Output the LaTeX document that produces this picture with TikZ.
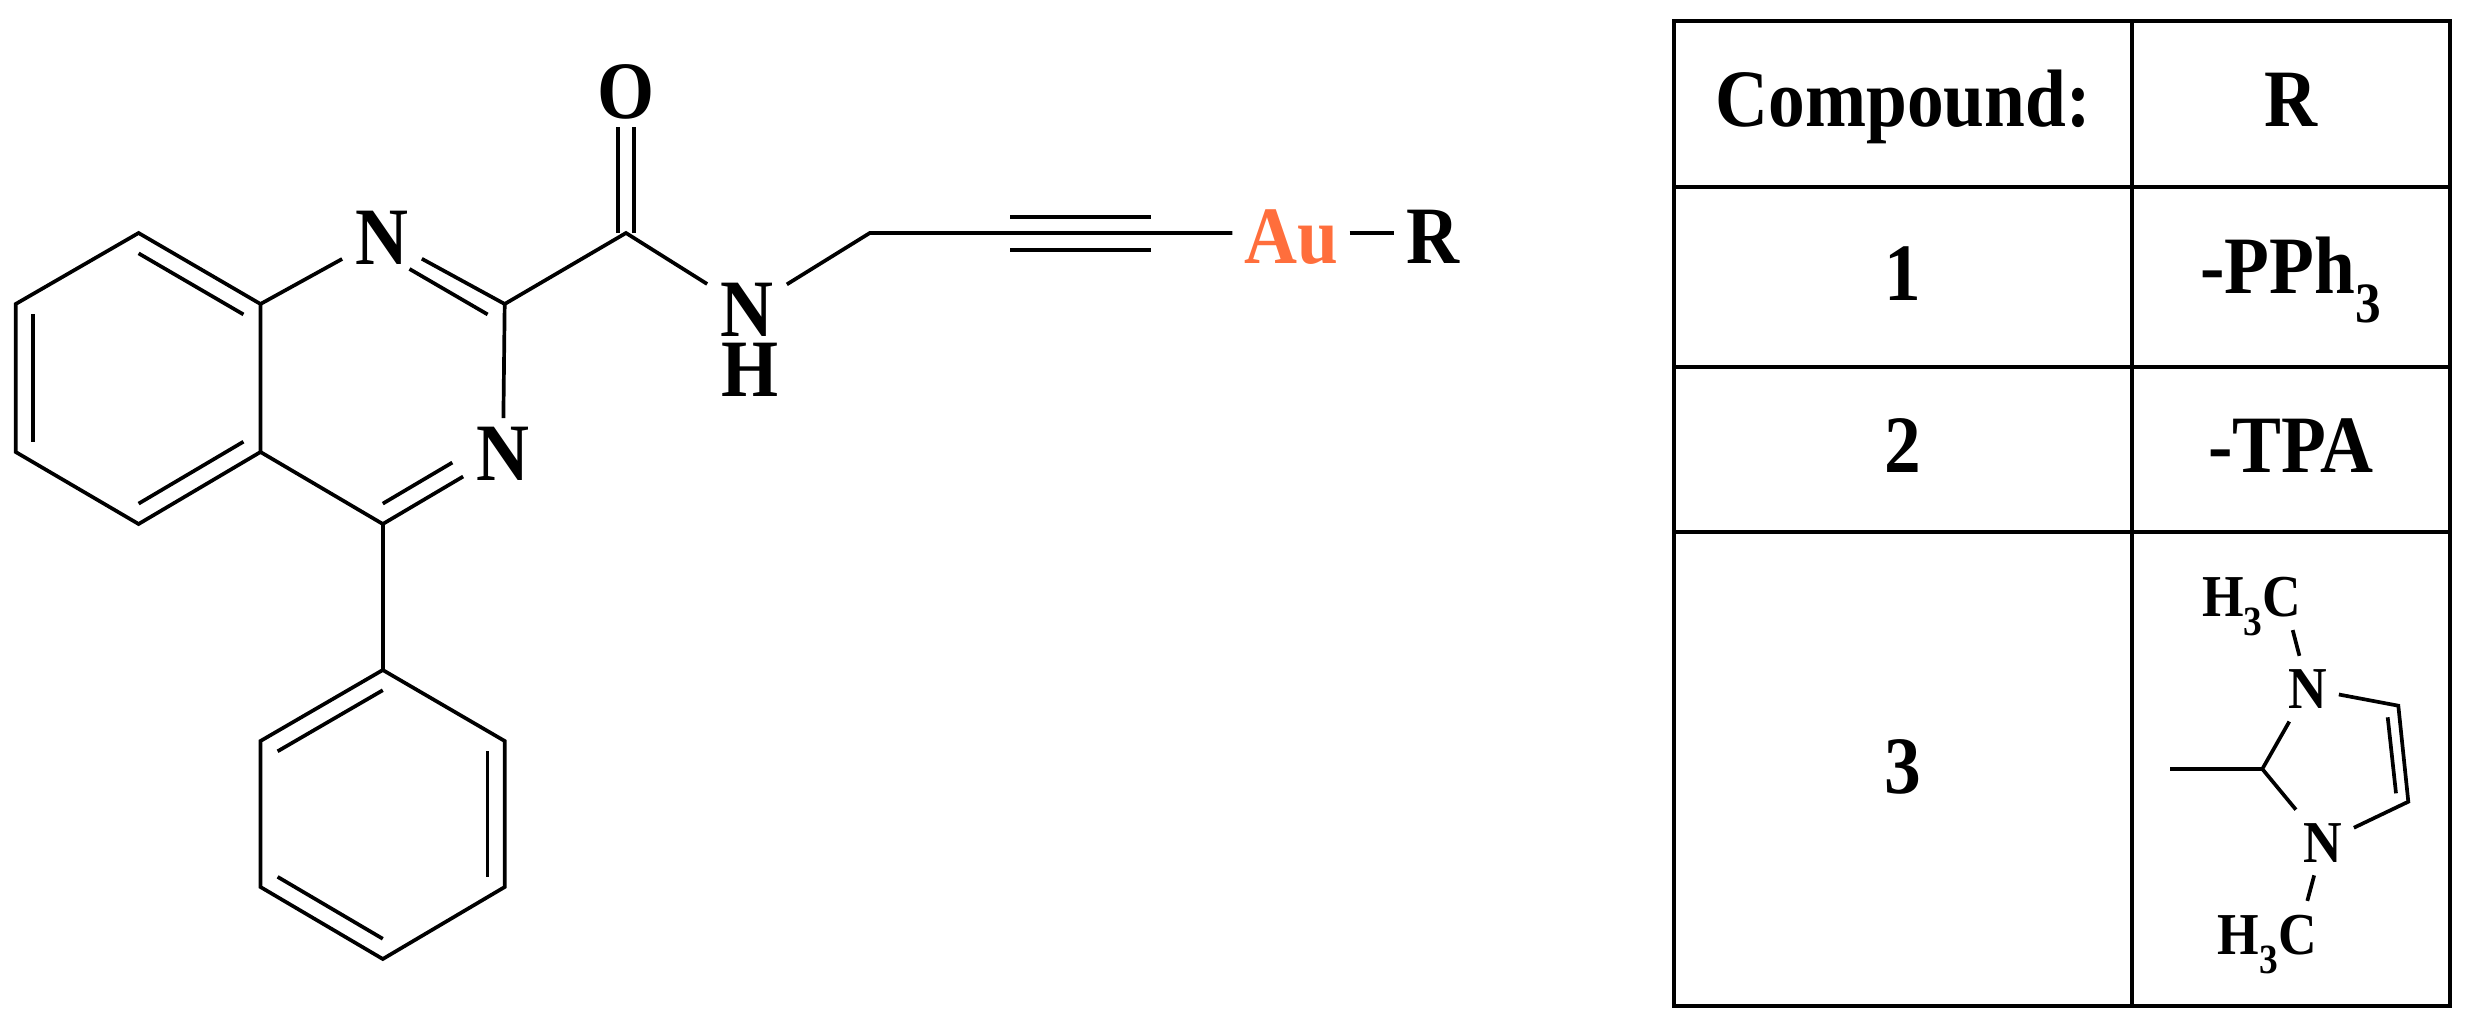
\documentclass[tikz,border=0pt]{standalone}
\usepackage{fontspec}
\setmainfont{Liberation Serif}[FakeStretch=0.9]
\usetikzlibrary{calc}
\definecolor{goldorange}{HTML}{FF6E3C}
\tikzset{
    bigtext/.style={font=\fontsize{81.5}{90}\selectfont\bfseries,text height=54pt,text depth=0pt},
    smalltext/.style={font=\fontsize{59.4}{66}\selectfont\bfseries,text height=39.5pt,text depth=0pt},
    atom/.style={bigtext,rectangle,inner sep=0pt,minimum width=76pt,minimum height=66pt},
    smallatom/.style={smalltext,rectangle,inner sep=0pt,minimum width=58pt,minimum height=62pt},
    methyl/.style={smalltext,inner xsep=0pt,inner ysep=12pt},
    chainlabel/.style={bigtext,text height=61pt,inner xsep=10pt,inner ysep=0pt},
    cell/.style={bigtext,inner sep=0pt,yshift=4pt},
    tableline/.style={line width=4pt}
}
\newcommand{\innerbond}[3]{\draw ($(#3)!.86!(#1)$) -- ($(#3)!.86!(#2)$);}
\begin{document}
\begin{tikzpicture}[x=1pt,y=-1pt,line width=3.7pt]
    \useasboundingbox (0,0) rectangle (2469,1030);

    \coordinate (btop) at (138.6,233);
    \coordinate (bul) at (15.7,304);
    \coordinate (bll) at (15.7,452);
    \coordinate (bbot) at (138.6,524);
    \coordinate (jbot) at (260.5,452);
    \coordinate (jtop) at (260.5,304);
    \coordinate (bmid) at (138.6,378.5);
    \coordinate (pmid) at (382.7,378.5);
    \coordinate (vnone) at (382.7,233);
    \coordinate (vnthree) at (504.7,452);
    \coordinate (ctwo) at (504.7,304);
    \coordinate (cfour) at (382.8,524);
    \coordinate (camide) at (626,233);
    \coordinate (chtwo) at (869.8,233);
    \coordinate (tripa) at (1010.4,233);
    \coordinate (tripb) at (1151,233);
    \coordinate (ipso) at (382.8,670);
    \coordinate (phul) at (260.5,741);
    \coordinate (phll) at (260.5,887);
    \coordinate (phbot) at (382.8,959);
    \coordinate (phlr) at (504.7,887);
    \coordinate (phur) at (504.7,741);
    \coordinate (phmid) at (382.8,814.5);

    \node[atom] (none) at (382,237) {N};
    \node[atom] (nthree) at (503,453) {N};
    \node[atom] (oxy) at (626,92) {O};
    \node[atom] (namide) at (747,309) {N};
    \node[bigtext,inner sep=0pt] (hamide) at (750,369.5) {H};
    \node[chainlabel,text=goldorange] (gold) at (1291,233) {Au};
    \node[chainlabel] (rgroup) at (1432.7,233) {R};

    \draw (btop) -- (bul) -- (bll) -- (bbot) -- (jbot) -- (jtop) -- cycle;
    \innerbond{btop}{jtop}{bmid}
    \innerbond{bul}{bll}{bmid}
    \innerbond{bbot}{jbot}{bmid}
    \draw (jtop) -- (none);
    \draw (none) -- (ctwo) -- (nthree);
    \draw (nthree) -- (cfour) -- (jbot);
    \draw[shorten >=31pt] ($(pmid)!.86!(ctwo)$) -- ($(pmid)!.86!(vnone)$);
    \draw[shorten >=41pt] ($(pmid)!.86!(cfour)$) -- ($(pmid)!.86!(vnthree)$);
    \draw (ctwo) -- (camide) -- (namide);
    \draw ([xshift=-8pt]camide) -- ([xshift=-8pt]camide |- oxy.south);
    \draw ([xshift=8pt]camide) -- ([xshift=8pt]camide |- oxy.south);
    \draw (namide) -- (chtwo) -- (gold);
    \draw ([yshift=16pt]tripa) -- ([yshift=16pt]tripb);
    \draw ([yshift=-17pt]tripa) -- ([yshift=-17pt]tripb);
    \draw (gold) -- (rgroup);

    \draw (cfour) -- (ipso);
    \draw (ipso) -- (phul) -- (phll) -- (phbot) -- (phlr) -- (phur) -- cycle;
    \innerbond{ipso}{phul}{phmid}
    \innerbond{phll}{phbot}{phmid}
    \innerbond{phlr}{phur}{phmid}

    \draw[tableline] (1674,21) rectangle (2132,187) node[pos=.5,cell] (cellhead) {Compound:};
    \draw[tableline] (2132,21) rectangle (2450,187) node[pos=.5,cell] (cellr) {R};
    \draw[tableline] (1674,187) rectangle (2132,367) node[pos=.5,cell] (cellone) {1};
    \draw[tableline] (2132,187) rectangle (2450,367) node[pos=.5,cell,yshift=6.5pt] (cellpph) {-PPh\textsubscript{3}};
    \draw[tableline] (1674,367) rectangle (2132,532) node[pos=.5,cell] (celltwo) {2};
    \draw[tableline] (2132,367) rectangle (2450,532) node[pos=.5,cell] (celltpa) {-TPA};
    \draw[tableline] (1674,532) rectangle (2132,1006) node[pos=.5,cell,yshift=-1.5pt] (cellthree) {3};
    \draw[tableline] (2132,532) rectangle (2450,1006);

    \coordinate (imcm) at (2262.3,769);
    \coordinate (imcr) at (2398.3,705.7);
    \coordinate (imcs) at (2408.3,801.7);
    \coordinate (imend) at (2170,769);
    \node[methyl] (mea) at (2251.7,596.5) {H\textsubscript{3}C};
    \node[methyl] (meb) at (2267.3,934.5) {H\textsubscript{3}C};
    \node[smallatom] (nima) at (2308,688.7) {N};
    \node[smallatom] (nimb) at (2323,842.5) {N};
    \draw ([xshift=41pt]mea.south) -- (nima);
    \draw (nima) -- (imcr) -- (imcs) -- (nimb);
    \draw (2387.7,717.3) -- (2396,793.3);
    \draw (nima) -- (imcm) -- (nimb);
    \draw (imcm) -- (imend);
    \draw (nimb) -- ([xshift=40pt]meb.north);
\end{tikzpicture}
\end{document}
